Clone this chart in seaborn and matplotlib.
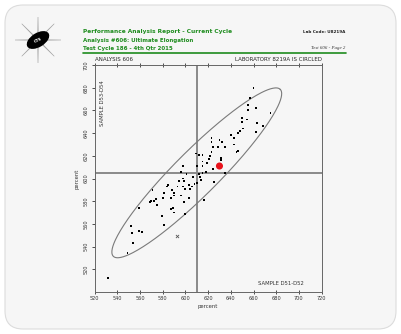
import numpy as np
import pandas as pd
import matplotlib
matplotlib.use('Agg')
import matplotlib.pyplot as plt
import seaborn as sns
from matplotlib.patches import FancyBboxPatch, Ellipse, Polygon

# ==================== 数据 ====================
sample_x = [660, 657, 655, 662, 655, 675, 650, 654, 650, 663, 668, 651, 648, 662, 646,
            640, 623, 643, 630, 635, 629, 623, 632, 643, 624, 646, 645, 623, 622, 612,
            615, 609, 631, 631, 621, 615, 619, 598, 610, 615, 624, 596, 601, 615, 612,
            618, 635, 607, 613, 585, 594, 599, 610, 625, 598, 603, 606, 604, 600, 608,
            571, 584, 598, 593, 588, 590, 581, 580, 574, 570, 572, 575, 587, 590, 596,
            603, 589, 590, 579, 600, 616, 614, 559, 569, 552, 553, 559, 562, 554, 549,
            532, 581, 587, 599]
sample_y = [680, 671, 665, 662, 660, 658, 653, 652, 650, 649, 646, 644, 642, 641, 640,
            638, 636, 636, 634, 628, 628, 632, 632, 630, 628, 624, 623, 623, 620, 621,
            621, 622, 618, 616, 617, 615, 614, 611, 611, 611, 608, 606, 604, 605, 604,
            606, 605, 601, 601, 594, 598, 598, 596, 597, 593, 594, 593, 591, 591, 595,
            590, 593, 600, 593, 590, 587, 587, 583, 582, 580, 580, 577, 583, 585, 585,
            583, 574, 570, 567, 569, 581, 599, 574, 579, 558, 552, 554, 553, 543, 534,
            512, 559, 573, 579]

lab_x, lab_y = [630], [611]          # 本实验室（红点）
outlier_x, outlier_y = [593], [549]  # 叉号标记

median_x, median_y = 610, 605
ell_center = (610, 605)
ell_a, ell_b, ell_angle = 104, 19.5, 45

x_ticks = list(range(520, 721, 20))
y_ticks = list(range(520, 701, 20))

df = pd.DataFrame({'x': sample_x, 'y': sample_y})

# ==================== 画布 ====================
sns.set_style('ticks')
plt.rcParams['font.family'] = ['DejaVu Sans']

fig = plt.figure(figsize=(4.01, 3.34), dpi=100)
fig.patch.set_facecolor('white')

# 背景层（像素坐标）
bg = fig.add_axes([0, 0, 1, 1], zorder=-10)
bg.set_xlim(0, 401)
bg.set_ylim(334, 0)
bg.axis('off')
bg.add_patch(FancyBboxPatch((5, 5), 391, 324, boxstyle='round,pad=0,rounding_size=18',
                            facecolor='#f6f6f6', edgecolor='#dcdcdc', linewidth=0.8, zorder=0))

# 标志：放射线 + 黑色椭圆
lx, ly = 38, 40
for ang in range(0, 360, 45):
    r = np.deg2rad(ang)
    d = np.array([np.cos(r), np.sin(r)])
    n = np.array([-d[1], d[0]])
    p0, p1 = np.array([lx, ly]) + 6 * d, np.array([lx, ly]) + 23 * d
    ray = Polygon([p0 + 0.6 * n, p1 + 0.3 * n, p1 - 0.3 * n, p0 - 0.6 * n], closed=True,
                  facecolor='#a0a0a0', edgecolor='none', zorder=4)
    bg.add_patch(ray)
bg.add_patch(Ellipse((lx, ly), 25, 14, angle=-32, facecolor='black', edgecolor='none', zorder=5))
bg.text(lx, ly, 'CTS', color='white', fontsize=2.8, fontweight='bold', ha='center',
        va='center', rotation=25, zorder=6)

# 页眉
green = '#1e8c1e'
bg.text(83, 32, 'Performance Analysis Report - Current Cycle', color=green,
        fontsize=4.2, fontweight='bold', va='center')
bg.text(83, 40.5, 'Analysis #606: Ultimate Elongation', color=green,
        fontsize=4.0, fontweight='bold', va='center')
bg.text(83, 48.5, 'Test Cycle 186 - 4th Qtr 2015', color=green,
        fontsize=4.0, fontweight='bold', va='center')
bg.text(345, 32, 'Lab Code: U8219A', color='#222222', fontsize=3.0,
        fontweight='bold', va='center', ha='right')
bg.text(345, 48.5, 'Test 606 - Page 2', color='#333333', fontsize=3.5,
        style='italic', family='Liberation Serif', va='center', ha='right')
bg.plot([83, 346], [53, 53], color=green, lw=1.2)

# ==================== 散点图 ====================
ax = fig.add_axes([0.236, 0.1257, 0.566, 0.6797])
ax.set_facecolor('#f6f6f6')

sns.scatterplot(data=df, x='x', y='y', ax=ax, color='black', s=1.8, marker='s',
                edgecolor='none', zorder=3)
sns.scatterplot(x=outlier_x, y=outlier_y, ax=ax, color='#555555', s=5, marker='x',
                linewidth=0.6, zorder=3)
sns.scatterplot(x=lab_x, y=lab_y, ax=ax, color='#e8121b', s=26, edgecolor='none', zorder=4)

ax.axvline(median_x, color='#8a8a8a', lw=1.4, zorder=2)
ax.axhline(median_y, color='#8a8a8a', lw=1.4, zorder=2)

t = np.linspace(0, 2 * np.pi, 300)
th = np.deg2rad(ell_angle)
ex = ell_center[0] + ell_a * np.cos(t) * np.cos(th) - ell_b * np.sin(t) * np.sin(th)
ey = ell_center[1] + ell_a * np.cos(t) * np.sin(th) + ell_b * np.sin(t) * np.cos(th)
ax.plot(ex, ey, color='#7a7a7a', lw=0.8, zorder=2)

ax.set_xlim(520, 720)
ax.set_ylim(500, 700)
ax.set_xticks(x_ticks)
ax.set_yticks(y_ticks)
ax.tick_params(axis='both', labelsize=3.6, length=2.5, width=0.6, pad=1.5, colors='#333333')
ax.tick_params(axis='x', top=True, direction='inout')
for lbl in ax.get_yticklabels():
    lbl.set_rotation(90)
    lbl.set_va('center')
for sp in ax.spines.values():
    sp.set_color('#666666')
    sp.set_linewidth(0.7)
ax.set_xlabel('percent', fontsize=3.8, labelpad=2, color='#333333')
ax.set_ylabel('percent', fontsize=3.8, labelpad=3, color='#333333')

ax.text(0.0, 1.012, 'ANALYSIS 606', transform=ax.transAxes, fontsize=4, va='bottom', ha='left')
ax.text(1.0, 1.012, 'LABORATORY 8219A IS CIRCLED', transform=ax.transAxes, fontsize=4,
        va='bottom', ha='right')
ax.text(0.025, 0.83, 'SAMPLE D53-D54', transform=ax.transAxes, fontsize=3.8, rotation=90,
        va='center', ha='left', color='#333333')
ax.text(0.82, 0.025, 'SAMPLE D51-D52', transform=ax.transAxes, fontsize=3.8,
        va='bottom', ha='center', color='#333333')

fig.savefig('out.png', dpi=100, facecolor='white')
